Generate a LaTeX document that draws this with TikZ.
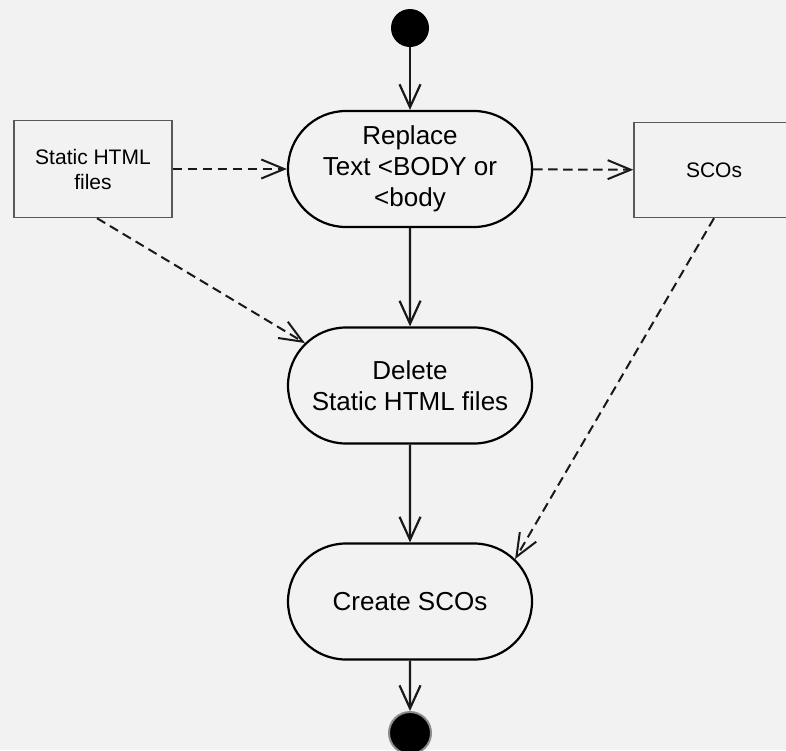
\documentclass[tikz,border=0pt]{standalone}
\usepackage{fontspec}
\setmainfont{Liberation Sans}
\usetikzlibrary{arrows.meta,shapes.misc}

\begin{document}
\begin{tikzpicture}[x=1pt,y=-1pt,
  activity/.style={rounded rectangle, draw=black, line width=2.2pt,
    minimum width=248pt, minimum height=116pt, inner sep=2pt,
    align=center, font=\fontsize{26}{31}\selectfont},
  objbox/.style={rectangle, draw=black!65, line width=1.4pt,
    minimum width=158pt, minimum height=97pt, inner sep=2pt,
    align=center, font=\fontsize{21}{25}\selectfont},
  startdot/.style={circle, fill=black, minimum size=38pt, inner sep=0pt},
  enddot/.style={circle, fill=black, draw=black!45, line width=2pt,
    minimum size=42pt, inner sep=0pt},
  flowline/.style={line width=2.2pt, draw=black!90,
    -{Straight Barb[length=23pt,width=21pt]}},
  objflow/.style={line width=2pt, draw=black!90, dash pattern=on 9.5pt off 5.5pt,
    -{Straight Barb[length=23pt,width=19pt]}}]

  % canvas
  \clip (0,0) rectangle (786,750);
  \fill[black!5] (0,0) rectangle (786,750);

  % activities
  \node[activity] (replace) at (410,169) {Replace\\Text <BODY or\\<body};
  \node[activity] (delete) at (410,385.5) {Delete\\Static HTML files};
  \node[activity] (create) at (410,601.5) {Create SCOs};

  % objects
  \node[objbox] (static) at (93,169) {Static HTML\\files};
  \node[objbox, minimum width=160pt, minimum height=95pt] (scos) at (714,170) {SCOs};

  % initial and final states
  \node[startdot] (start) at (410,28) {};
  \node[enddot] (stop) at (410,733) {};

  % control flow
  \draw[flowline] (start) -- (replace);
  \draw[flowline] (replace) -- (delete);
  \draw[flowline] (delete) -- (create);
  \draw[flowline] (create) -- (stop);

  % object flow
  \draw[objflow] (static) -- (replace);
  \draw[objflow] (replace) -- (scos);
  \draw[objflow] ([xshift=4pt]static.south) -- (delete.158);
  \draw[objflow] (scos.south) -- (create.22);
\end{tikzpicture}
\end{document}
